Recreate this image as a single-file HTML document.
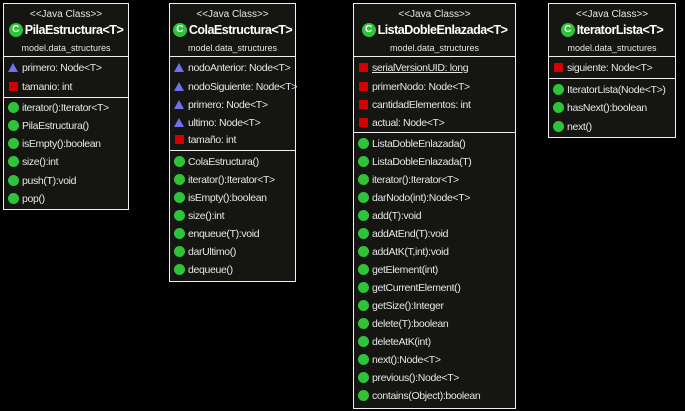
<!DOCTYPE html>
<html><head><meta charset="utf-8"><style>
body{margin:0;width:685px;height:411px;background:#000;position:relative;overflow:hidden;font-family:"Liberation Sans",Arial,sans-serif;color:#e6e6e6}
.b{position:absolute;background:#151512;border:1px solid #f0f0f0;box-sizing:border-box}
.st{position:absolute;left:0;right:0;text-align:center;font-size:10px;top:5px;white-space:nowrap}
.nm{position:absolute;left:-10px;right:-10px;text-align:center;font-size:12.5px;font-weight:bold;top:19px;color:#fff;white-space:nowrap;letter-spacing:-0.5px}
.pk{position:absolute;left:0;right:0;text-align:center;font-size:9px;top:39px;white-space:nowrap}
.ln{position:absolute;left:0;right:0;height:1px;background:#f0f0f0}
.r{position:absolute;left:4px;font-size:10.5px;height:16px;line-height:16px;white-space:nowrap;letter-spacing:-0.35px}
.r i{display:inline-block;vertical-align:middle;margin-right:3px;position:relative;top:-1px}
.g{width:11px;height:11px;border-radius:50%;background:#2ec43a}
.q{width:9px;height:9px;background:#d40000;margin-left:1px;margin-right:4px!important}
.t{width:0;height:0;border-left:5px solid transparent;border-right:5px solid transparent;border-bottom:9px solid #7070f0;margin-right:4px!important}
.ci{display:inline-block;width:14px;height:14px;border-radius:50%;background:#2ec43a;color:#fff;font-size:10px;line-height:14px;text-align:center;vertical-align:middle;margin-right:2px;position:relative;top:-1px;letter-spacing:0}
</style></head><body>

<div class="b" style="left:3px;top:3px;width:126px;height:207px">
<div class="st">&lt;&lt;Java Class&gt;&gt;</div>
<div class="nm"><span class="ci">C</span>PilaEstructura&lt;T&gt;</div>
<div class="pk">model.data_structures</div>
<div class="ln" style="top:52px"></div>
<div class="r" style="top:56px"><i class="t"></i>primero: Node&lt;T&gt;</div>
<div class="r" style="top:75px"><i class="q"></i>tamanio: int</div>
<div class="ln" style="top:93px"></div>
<div class="r" style="top:96px"><i class="g"></i>iterator():Iterator&lt;T&gt;</div>
<div class="r" style="top:114px"><i class="g"></i>PilaEstructura()</div>
<div class="r" style="top:132px"><i class="g"></i>isEmpty():boolean</div>
<div class="r" style="top:150px"><i class="g"></i>size():int</div>
<div class="r" style="top:169px"><i class="g"></i>push(T):void</div>
<div class="r" style="top:187px"><i class="g"></i>pop()</div>
</div>

<div class="b" style="left:169px;top:3px;width:127px;height:279px">
<div class="st">&lt;&lt;Java Class&gt;&gt;</div>
<div class="nm"><span class="ci">C</span>ColaEstructura&lt;T&gt;</div>
<div class="pk">model.data_structures</div>
<div class="ln" style="top:52px"></div>
<div class="r" style="top:56px"><i class="t"></i>nodoAnterior: Node&lt;T&gt;</div>
<div class="r" style="top:75px"><i class="t"></i>nodoSiguiente: Node&lt;T&gt;</div>
<div class="r" style="top:93px"><i class="t"></i>primero: Node&lt;T&gt;</div>
<div class="r" style="top:111px"><i class="t"></i>ultimo: Node&lt;T&gt;</div>
<div class="r" style="top:128px"><i class="q"></i>tamaño: int</div>
<div class="ln" style="top:146px"></div>
<div class="r" style="top:150px"><i class="g"></i>ColaEstructura()</div>
<div class="r" style="top:168px"><i class="g"></i>iterator():Iterator&lt;T&gt;</div>
<div class="r" style="top:186px"><i class="g"></i>isEmpty():boolean</div>
<div class="r" style="top:204px"><i class="g"></i>size():int</div>
<div class="r" style="top:222px"><i class="g"></i>enqueue(T):void</div>
<div class="r" style="top:240px"><i class="g"></i>darUltimo()</div>
<div class="r" style="top:258px"><i class="g"></i>dequeue()</div>
</div>

<div class="b" style="left:353px;top:3px;width:163px;height:406px">
<div class="st">&lt;&lt;Java Class&gt;&gt;</div>
<div class="nm"><span class="ci">C</span>ListaDobleEnlazada&lt;T&gt;</div>
<div class="pk">model.data_structures</div>
<div class="ln" style="top:52px"></div>
<div class="r" style="top:56px"><i class="q"></i><span style="text-decoration:underline">serialVersionUID: long</span></div>
<div class="r" style="top:75px"><i class="q"></i>primerNodo: Node&lt;T&gt;</div>
<div class="r" style="top:93px"><i class="q"></i>cantidadElementos: int</div>
<div class="r" style="top:111px"><i class="q"></i>actual: Node&lt;T&gt;</div>
<div class="ln" style="top:128px"></div>
<div class="r" style="top:132px"><i class="g"></i>ListaDobleEnlazada()</div>
<div class="r" style="top:150px"><i class="g"></i>ListaDobleEnlazada(T)</div>
<div class="r" style="top:168px"><i class="g"></i>iterator():Iterator&lt;T&gt;</div>
<div class="r" style="top:186px"><i class="g"></i>darNodo(int):Node&lt;T&gt;</div>
<div class="r" style="top:204px"><i class="g"></i>add(T):void</div>
<div class="r" style="top:222px"><i class="g"></i>addAtEnd(T):void</div>
<div class="r" style="top:240px"><i class="g"></i>addAtK(T,int):void</div>
<div class="r" style="top:258px"><i class="g"></i>getElement(int)</div>
<div class="r" style="top:276px"><i class="g"></i>getCurrentElement()</div>
<div class="r" style="top:294px"><i class="g"></i>getSize():Integer</div>
<div class="r" style="top:312px"><i class="g"></i>delete(T):boolean</div>
<div class="r" style="top:330px"><i class="g"></i>deleteAtK(int)</div>
<div class="r" style="top:348px"><i class="g"></i>next():Node&lt;T&gt;</div>
<div class="r" style="top:366px"><i class="g"></i>previous():Node&lt;T&gt;</div>
<div class="r" style="top:384px"><i class="g"></i>contains(Object):boolean</div>
</div>

<div class="b" style="left:548px;top:3px;width:128px;height:135px">
<div class="st">&lt;&lt;Java Class&gt;&gt;</div>
<div class="nm"><span class="ci">C</span>IteratorLista&lt;T&gt;</div>
<div class="pk">model.data_structures</div>
<div class="ln" style="top:52px"></div>
<div class="r" style="top:56px"><i class="q"></i>siguiente: Node&lt;T&gt;</div>
<div class="ln" style="top:74px"></div>
<div class="r" style="top:78px"><i class="g"></i>IteratorLista(Node&lt;T&gt;)</div>
<div class="r" style="top:96px"><i class="g"></i>hasNext():boolean</div>
<div class="r" style="top:115px"><i class="g"></i>next()</div>
</div>

</body></html>
